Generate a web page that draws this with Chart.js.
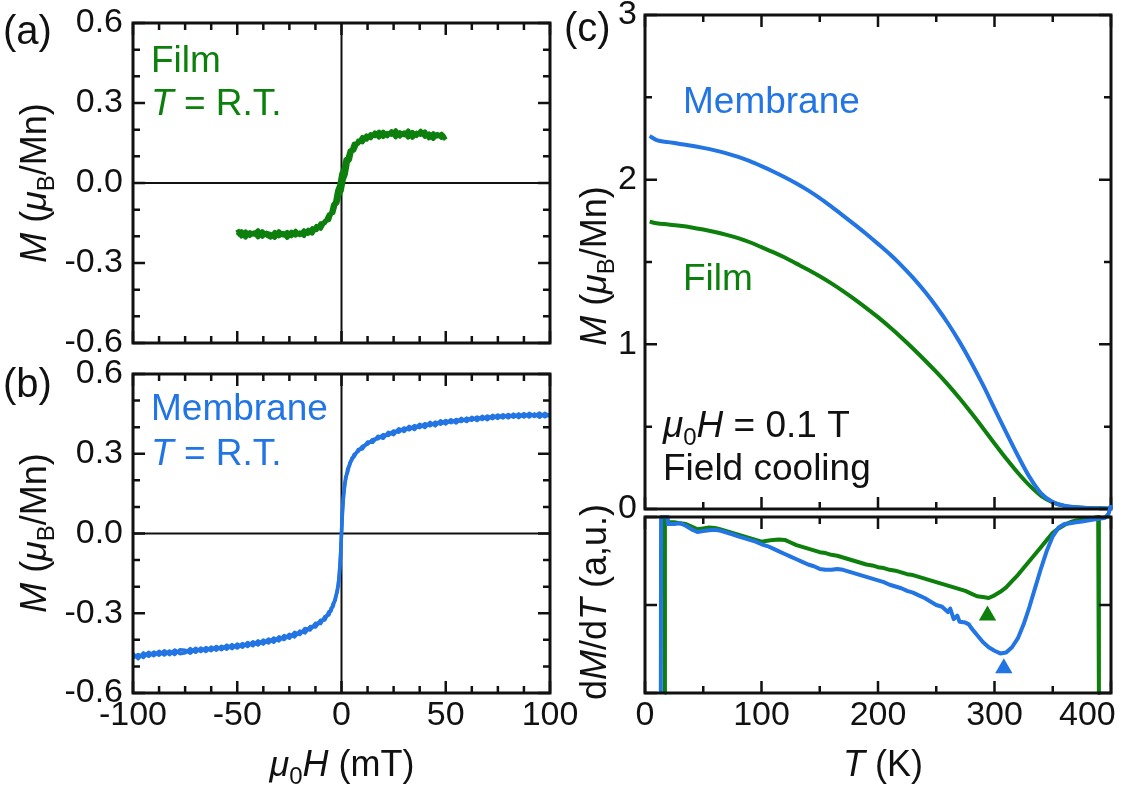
<!DOCTYPE html>
<html>
<head>
<meta charset="utf-8">
<title>M-H loops and M-T curves</title>
<script src="https://cdn.jsdelivr.net/npm/chart.js@4.4.1/dist/chart.umd.min.js"></script>
<style>
  html, body { margin: 0; padding: 0; background: #fff; overflow: hidden; }
  #fig { position: relative; width: 1129px; height: 794px; background: #fff; }
  #fig canvas { position: absolute; }
</style>
</head>
<body>
<div id="fig">
  <canvas id="panelA" width="600" height="362" style="left:0;top:0"></canvas>
  <canvas id="panelB" width="600" height="437" style="left:0;top:357px"></canvas>
  <canvas id="panelC" width="569" height="532" style="left:560px;top:0"></canvas>
  <canvas id="panelD" width="569" height="289" style="left:560px;top:505px"></canvas>
</div>

<script>
// (a) film loop, mT / muB per Mn
var filmH = [-50,-48,-46,-44,-42,-40,-38,-36,-34,-32,-30,-28,-26,-24,-22,-20,-18,-16,-14,-12,-10,-8,-6,
             -5,-4,-3,-2,-1,0,1,2,3,4,5,
             6,8,10,12,14,16,18,20,22,24,26,28,30,32,34,36,38,40,42,44,46,48,50];
var filmUp = [-0.175,-0.200,-0.182,-0.198,-0.186,-0.203,-0.181,-0.196,-0.204,-0.184,-0.199,-0.188,-0.205,-0.183,-0.197,-0.186,-0.198,-0.176,-0.189,-0.162,-0.171,-0.143,-0.138,
              -0.114,-0.112,-0.083,-0.074,-0.044,-0.030,0.012,0.033,0.078,0.088,0.124,
              0.122,0.158,0.153,0.178,0.168,0.189,0.171,0.192,0.176,0.194,0.172,0.190,0.179,0.196,0.170,0.188,0.181,0.193,0.168,0.186,0.175,0.184,0.163];
var filmDown = [-0.196,-0.181,-0.204,-0.185,-0.193,-0.178,-0.201,-0.187,-0.192,-0.205,-0.181,-0.196,-0.184,-0.199,-0.180,-0.195,-0.178,-0.190,-0.170,-0.176,-0.152,-0.150,-0.118,
                -0.116,-0.082,-0.071,-0.028,-0.008,0.036,0.052,0.088,0.094,0.121,0.125,
                0.147,0.148,0.172,0.163,0.183,0.176,0.192,0.173,0.187,0.181,0.197,0.175,0.189,0.171,0.191,0.177,0.195,0.174,0.185,0.166,0.183,0.170,0.178];

// (b) membrane loop
var membH = [-100,-97.5,-95,-92.5,-90,-87.5,-85,-82.5,-80,-77.5,-75,-72.5,-70,-67.5,-65,-62.5,-60,-57.5,-55,-52.5,-50,-47.5,-45,-42.5,-40,-37.5,-35,-32.5,-30,-27.5,-25,-22.5,-20,-17.5,-15,-12.5,
             -10,-8,-6,-5,-4,-3,-2,-1.5,-1,-0.5,0,0.5,1,1.5,2,3,4,5,6,8,10,
             12.5,15,17.5,20,22.5,25,27.5,30,32.5,35,37.5,40,42.5,45,47.5,50,52.5,55,57.5,60,62.5,65,67.5,70,72.5,75,77.5,80,82.5,85,87.5,90,92.5,95,97.5,100];
var membUp = [-0.452,-0.471,-0.449,-0.462,-0.446,-0.458,-0.441,-0.456,-0.438,-0.452,-0.449,-0.433,-0.447,-0.431,-0.444,-0.427,-0.439,-0.424,-0.435,-0.418,-0.431,-0.414,-0.425,-0.407,-0.419,-0.401,-0.412,-0.393,-0.404,-0.384,-0.394,-0.372,-0.380,-0.357,-0.363,-0.338,
              -0.339,-0.313,-0.306,-0.281,-0.274,-0.243,-0.219,-0.186,-0.153,-0.088,-0.004,0.085,0.141,0.184,0.203,0.244,0.259,0.284,0.288,0.316,0.318,
              0.344,0.343,0.366,0.358,0.381,0.372,0.394,0.384,0.403,0.391,0.411,0.399,0.418,0.405,0.424,0.412,0.428,0.416,0.433,0.421,0.437,0.425,0.441,0.428,0.445,0.433,0.447,0.435,0.449,0.436,0.451,0.438,0.450,0.437,0.452,0.441];
var membDown = [-0.468,-0.455,-0.466,-0.447,-0.460,-0.443,-0.457,-0.442,-0.455,-0.437,-0.439,-0.450,-0.432,-0.444,-0.429,-0.441,-0.425,-0.437,-0.420,-0.433,-0.416,-0.428,-0.410,-0.422,-0.404,-0.416,-0.397,-0.409,-0.389,-0.399,-0.379,-0.389,-0.367,-0.374,-0.350,-0.352,
                -0.326,-0.325,-0.294,-0.292,-0.263,-0.252,-0.209,-0.193,-0.144,-0.094,0.006,0.094,0.149,0.177,0.212,0.232,0.266,0.277,0.297,0.309,0.328,
                0.336,0.354,0.356,0.372,0.369,0.386,0.381,0.397,0.390,0.406,0.398,0.413,0.405,0.419,0.411,0.425,0.417,0.429,0.421,0.434,0.426,0.438,0.429,0.442,0.432,0.446,0.435,0.448,0.437,0.450,0.438,0.452,0.440,0.453,0.439,0.448];

// (c) field-cooled M(T), K / muB per Mn
var tempK = [4,10,20,30,40,50,60,70,80,90,100,110,120,130,140,150,160,170,180,190,200,
             210,220,230,240,250,260,270,280,290,300,310,320,330,340,350,360,370,380,390,400];
var membMT = [2.265,2.240,2.228,2.217,2.206,2.193,2.178,2.160,2.138,2.112,2.082,2.050,2.015,1.977,1.935,1.888,1.836,1.782,1.727,1.670,1.610,
              1.548,1.480,1.405,1.322,1.230,1.128,1.015,0.890,0.755,0.610,0.465,0.325,0.195,0.095,0.042,0.020,0.011,0.006,0.004,0.003];
var filmMT = [1.745,1.735,1.728,1.720,1.710,1.697,1.682,1.665,1.645,1.620,1.590,1.560,1.527,1.490,1.453,1.413,1.370,1.323,1.273,1.220,1.165,
              1.105,1.042,0.975,0.905,0.832,0.755,0.672,0.584,0.492,0.398,0.306,0.220,0.143,0.080,0.040,0.019,0.010,0.006,0.004,0.003];

// dM/dT, arbitrary units
var membDT = [13.6,13.8,19.3,19.6,25,30,35,40,45,50,55,60,65,70,75,80,85,90,95,100,105,110,115,120,125,130,135,140,145,150,155,160,165,170,175,
              180,185,190,195,200,205,210,215,220,225,230,235,240,245,250,255,260,262,265,268,270,275,278,280,285,290,295,300,305,310,
              315,320,325,330,335,340,345,350,355,360,365,370,375,380,385,390,395,398,400];
var membDM = [-1,0,0,-0.04,-0.04,-0.035,-0.05,-0.07,-0.085,-0.08,-0.075,-0.072,-0.078,-0.088,-0.098,-0.11,-0.12,-0.13,-0.14,-0.155,-0.165,-0.18,-0.195,-0.21,-0.225,-0.24,-0.255,-0.27,-0.28,-0.295,-0.30,-0.30,-0.295,-0.30,-0.31,
              -0.32,-0.33,-0.34,-0.35,-0.36,-0.37,-0.385,-0.395,-0.405,-0.42,-0.43,-0.445,-0.46,-0.48,-0.50,-0.51,-0.54,-0.52,-0.58,-0.56,-0.595,-0.60,-0.61,-0.63,-0.67,-0.71,-0.74,-0.76,-0.775,-0.77,
              -0.74,-0.69,-0.61,-0.51,-0.40,-0.29,-0.19,-0.11,-0.06,-0.04,-0.035,-0.03,-0.025,-0.02,-0.015,-0.01,-0.005,0.02,0.07];
var filmDT = [16.9,17.1,20,25,30,35,40,45,50,55,60,65,70,75,80,85,90,95,100,105,110,115,120,125,130,135,140,145,150,155,160,165,170,175,
              180,185,190,195,200,205,210,215,220,225,230,235,240,245,250,255,260,265,270,275,280,285,290,295,300,305,310,
              315,320,325,330,335,340,345,350,355,360,365,370,375,380,385,389,389.6];
var filmDM = [-1,0,-0.03,-0.03,-0.035,-0.04,-0.055,-0.07,-0.065,-0.06,-0.062,-0.07,-0.08,-0.09,-0.10,-0.11,-0.12,-0.13,-0.14,-0.135,-0.13,-0.128,-0.13,-0.145,-0.16,-0.17,-0.18,-0.19,-0.20,-0.205,-0.215,-0.22,-0.23,-0.24,
              -0.25,-0.26,-0.27,-0.275,-0.285,-0.29,-0.30,-0.305,-0.315,-0.325,-0.33,-0.34,-0.35,-0.36,-0.37,-0.38,-0.39,-0.40,-0.41,-0.42,-0.435,-0.45,-0.455,-0.46,-0.445,-0.425,-0.40,
              -0.365,-0.33,-0.29,-0.25,-0.21,-0.17,-0.13,-0.09,-0.065,-0.045,-0.03,-0.02,-0.015,-0.01,-0.005,0,-1];

// peak markers (film, membrane)
var peakT = [294, 308];
var peakV = [-0.56, -0.86];

var GREEN = '#0d7f0d';
var BLUE = '#2375e4';
var INK = '#111';
var FONT = '"Liberation Sans", Arial, Helvetica, sans-serif';

function pts(xs, ys) {
    return xs.map(function (x, i) { return { x: x, y: ys[i] }; });
}

function drawRich(ctx, t) {
    var size = t.size || 36;
    var fontOf = function (r) {
        return (r.i ? 'italic ' : '') + Math.round(r.sub ? size * 0.66 : size) + 'px ' + FONT;
    };
    ctx.save();
    ctx.translate(t.x, t.y);
    if (t.rotate) ctx.rotate(t.rotate);
    ctx.fillStyle = t.color || INK;
    ctx.textBaseline = 'alphabetic';
    ctx.textAlign = 'left';
    var w = 0;
    t.runs.forEach(function (r) { ctx.font = fontOf(r); w += ctx.measureText(r.t).width; });
    var cx = t.align === 'center' ? -w / 2 : 0;
    t.runs.forEach(function (r) {
        ctx.font = fontOf(r);
        ctx.fillText(r.t, cx, r.sub ? size * 0.22 : 0);
        cx += ctx.measureText(r.t).width;
    });
    ctx.restore();
}

function isMultiple(v, step) {
    var q = v / step;
    return Math.abs(q - Math.round(q)) < 1e-6;
}

// frame, inward ticks on all four sides, zero lines, rich text
var framePlugin = {
    id: 'frame',
    beforeDatasetsDraw: function (chart, args, opts) {
        if (!opts.zeroLines) return;
        var ctx = chart.ctx, a = chart.chartArea, x = chart.scales.x, y = chart.scales.y;
        var px = x.getPixelForValue(0), py = y.getPixelForValue(0);
        ctx.save();
        ctx.strokeStyle = INK;
        ctx.lineWidth = 2;
        ctx.beginPath();
        ctx.moveTo(px, a.top); ctx.lineTo(px, a.bottom);
        ctx.moveTo(a.left, py); ctx.lineTo(a.right, py);
        ctx.stroke();
        ctx.restore();
    },
    afterDatasetsDraw: function (chart, args, opts) {
        var ctx = chart.ctx, a = chart.chartArea, x = chart.scales.x, y = chart.scales.y;
        var i, n, v, p, len;
        ctx.save();
        ctx.strokeStyle = INK;
        ctx.lineWidth = 2.5;
        ctx.beginPath();
        n = Math.round((x.max - x.min) / opts.xTicks[1]);
        for (i = 0; i <= n; i++) {
            v = x.min + i * opts.xTicks[1];
            p = x.getPixelForValue(v);
            len = isMultiple(v, opts.xTicks[0]) ? 12 : 7;
            ctx.moveTo(p, a.top); ctx.lineTo(p, a.top + len);
            ctx.moveTo(p, a.bottom); ctx.lineTo(p, a.bottom - len);
        }
        n = Math.round((y.max - y.min) / opts.yTicks[1]);
        for (i = 0; i <= n; i++) {
            v = y.min + i * opts.yTicks[1];
            p = y.getPixelForValue(v);
            len = isMultiple(v, opts.yTicks[0]) ? 12 : 7;
            ctx.moveTo(a.left, p); ctx.lineTo(a.left + len, p);
            ctx.moveTo(a.right, p); ctx.lineTo(a.right - len, p);
        }
        ctx.stroke();
        ctx.lineWidth = 3;
        ctx.strokeRect(a.left, a.top, a.right - a.left, a.bottom - a.top);
        ctx.restore();
    },
    afterDraw: function (chart, args, opts) {
        (opts.texts || []).forEach(function (t) { drawRich(chart.ctx, t); });
    }
};

var tickFont = { family: FONT, size: 34 };

function axis(min, max, step, extra) {
    var s = {
        type: 'linear',
        min: min,
        max: max,
        grid: { display: false, drawTicks: false },
        border: { display: false },
        ticks: { stepSize: step, font: tickFont, color: INK, padding: 10 }
    };
    return Object.assign(s, extra || {});
}

function makeChart(id, datasets, scales, padding, frame) {
    return new Chart(document.getElementById(id), {
        type: 'line',
        data: { datasets: datasets },
        options: {
            responsive: false,
            animation: false,
            events: [],
            layout: { autoPadding: false, padding: padding },
            elements: { point: { radius: 0 }, line: { borderJoinStyle: 'round' } },
            plugins: { legend: { display: false }, tooltip: { enabled: false }, frame: frame },
            scales: scales
        },
        plugins: [framePlugin]
    });
}

function fixWidth(w) {
    return function (s) { s.width = w; s.paddingTop = 0; s.paddingBottom = 0; };
}
function fixHeight(h) {
    return function (s) { s.height = h; s.paddingLeft = 0; s.paddingRight = 0; };
}
function oneDecimal(v) {
    return Math.abs(v) < 1e-9 ? '0.0' : v.toFixed(1);
}

var mTitle = [{ t: 'M', i: true }, { t: ' (' }, { t: '\u03bc', i: true }, { t: 'B', sub: true }, { t: '/Mn)' }];
var rtText = [{ t: 'T', i: true }, { t: ' = R.T.' }];

// (a) film
var filmLine = { borderWidth: 4.5, tension: 0, fill: false };
makeChart('panelA', [
    Object.assign({ data: pts(filmH, filmUp), borderColor: GREEN }, filmLine),
    Object.assign({ data: pts(filmH, filmDown), borderColor: GREEN }, filmLine)
], {
    x: axis(-100, 100, 50, { display: false }),
    y: axis(-0.6, 0.6, 0.3, { afterFit: fixWidth(133), ticks: { stepSize: 0.3, font: tickFont, color: INK, padding: 10, callback: oneDecimal } })
}, { left: 0, top: 23, right: 50, bottom: 19 }, {
    zeroLines: true, xTicks: [50, 12.5], yTicks: [0.3, 0.1],
    texts: [
        { x: 3, y: 44, size: 40, runs: [{ t: '(a)' }] },
        { x: 46, y: 183, rotate: -Math.PI / 2, align: 'center', runs: mTitle },
        { x: 151, y: 72, size: 37, color: GREEN, runs: [{ t: 'Film' }] },
        { x: 151, y: 115, size: 37, color: GREEN, runs: rtText }
    ]
});

// (b) membrane
var membLine = { borderWidth: 3.5, tension: 0, fill: false };
makeChart('panelB', [
    Object.assign({ data: pts(membH, membUp), borderColor: BLUE }, membLine),
    Object.assign({ data: pts(membH, membDown), borderColor: BLUE }, membLine)
], {
    x: axis(-100, 100, 50, { afterFit: fixHeight(101), ticks: { stepSize: 50, font: tickFont, color: INK, padding: 2 } }),
    y: axis(-0.6, 0.6, 0.3, { afterFit: fixWidth(133), ticks: { stepSize: 0.3, font: tickFont, color: INK, padding: 10, callback: oneDecimal } })
}, { left: 0, top: 17, right: 50, bottom: 0 }, {
    zeroLines: true, xTicks: [50, 12.5], yTicks: [0.3, 0.1],
    texts: [
        { x: 3, y: 40, size: 40, runs: [{ t: '(b)' }] },
        { x: 46, y: 176, rotate: -Math.PI / 2, align: 'center', runs: mTitle },
        { x: 151, y: 63, size: 37, color: BLUE, runs: [{ t: 'Membrane' }] },
        { x: 151, y: 108, size: 37, color: BLUE, runs: rtText },
        { x: 342, y: 419, align: 'center', runs: [{ t: '\u03bc', i: true }, { t: '0', sub: true }, { t: 'H', i: true }, { t: ' (mT)' }] }
    ]
});

// (c) M(T)
var mtLine = { borderWidth: 4, cubicInterpolationMode: 'monotone', fill: false };
makeChart('panelC', [
    Object.assign({ data: pts(tempK, membMT), borderColor: BLUE }, mtLine),
    Object.assign({ data: pts(tempK, filmMT), borderColor: GREEN }, mtLine)
], {
    x: axis(0, 400, 100, { display: false }),
    y: axis(0, 3, 1, { afterFit: fixWidth(85), ticks: { stepSize: 1, font: tickFont, color: INK, padding: 8 } })
}, { left: 0, top: 15, right: 18, bottom: 23 }, {
    xTicks: [100, 50], yTicks: [1, 0.5],
    texts: [
        { x: 4, y: 41, size: 40, runs: [{ t: '(c)' }] },
        { x: 46, y: 266, rotate: -Math.PI / 2, align: 'center', runs: mTitle },
        { x: 123, y: 113, size: 37, color: BLUE, runs: [{ t: 'Membrane' }] },
        { x: 123, y: 290, size: 37, color: GREEN, runs: [{ t: 'Film' }] },
        { x: 103, y: 437, size: 37, runs: [{ t: '\u03bc', i: true }, { t: '0', sub: true }, { t: 'H', i: true }, { t: ' = 0.1 T' }] },
        { x: 103, y: 480, size: 37, runs: [{ t: 'Field cooling' }] }
    ]
});

// (d) dM/dT
var dLine = { borderWidth: 4, tension: 0, fill: false, clip: false };
makeChart('panelD', [
    Object.assign({ data: pts(membDT, membDM), borderColor: BLUE }, dLine),
    Object.assign({ data: pts(filmDT, filmDM), borderColor: GREEN }, dLine),
    {
        data: [{ x: peakT[0], y: peakV[0] }], showLine: false,
        pointStyle: 'triangle', pointRadius: 10, pointBackgroundColor: GREEN, pointBorderColor: GREEN, pointBorderWidth: 0
    },
    {
        data: [{ x: peakT[1], y: peakV[1] }], showLine: false,
        pointStyle: 'triangle', pointRadius: 10, pointBackgroundColor: BLUE, pointBorderColor: BLUE, pointBorderWidth: 0
    }
], {
    x: axis(0, 400, 100, {
        afterFit: fixHeight(101),
        ticks: {
            stepSize: 100, font: tickFont, color: INK, padding: 2,
            callback: function (v) { return v === 400 ? '400\u00a0\u00a0\u00a0\u00a0\u00a0' : String(v); }
        }
    }),
    y: axis(-1, 0, 0.5, { afterFit: fixWidth(85), ticks: { display: false } })
}, { left: 0, top: 12, right: 18, bottom: 0 }, {
    xTicks: [100, 50], yTicks: [0.5, 0.5],
    texts: [
        { x: 46, y: 97, rotate: -Math.PI / 2, align: 'center',
          runs: [{ t: 'd' }, { t: 'M', i: true }, { t: '/d' }, { t: 'T', i: true }, { t: ' (a,u.)' }] },
        { x: 323, y: 271, align: 'center', runs: [{ t: 'T', i: true }, { t: ' (K)' }] }
    ]
});
</script>
</body>
</html>
